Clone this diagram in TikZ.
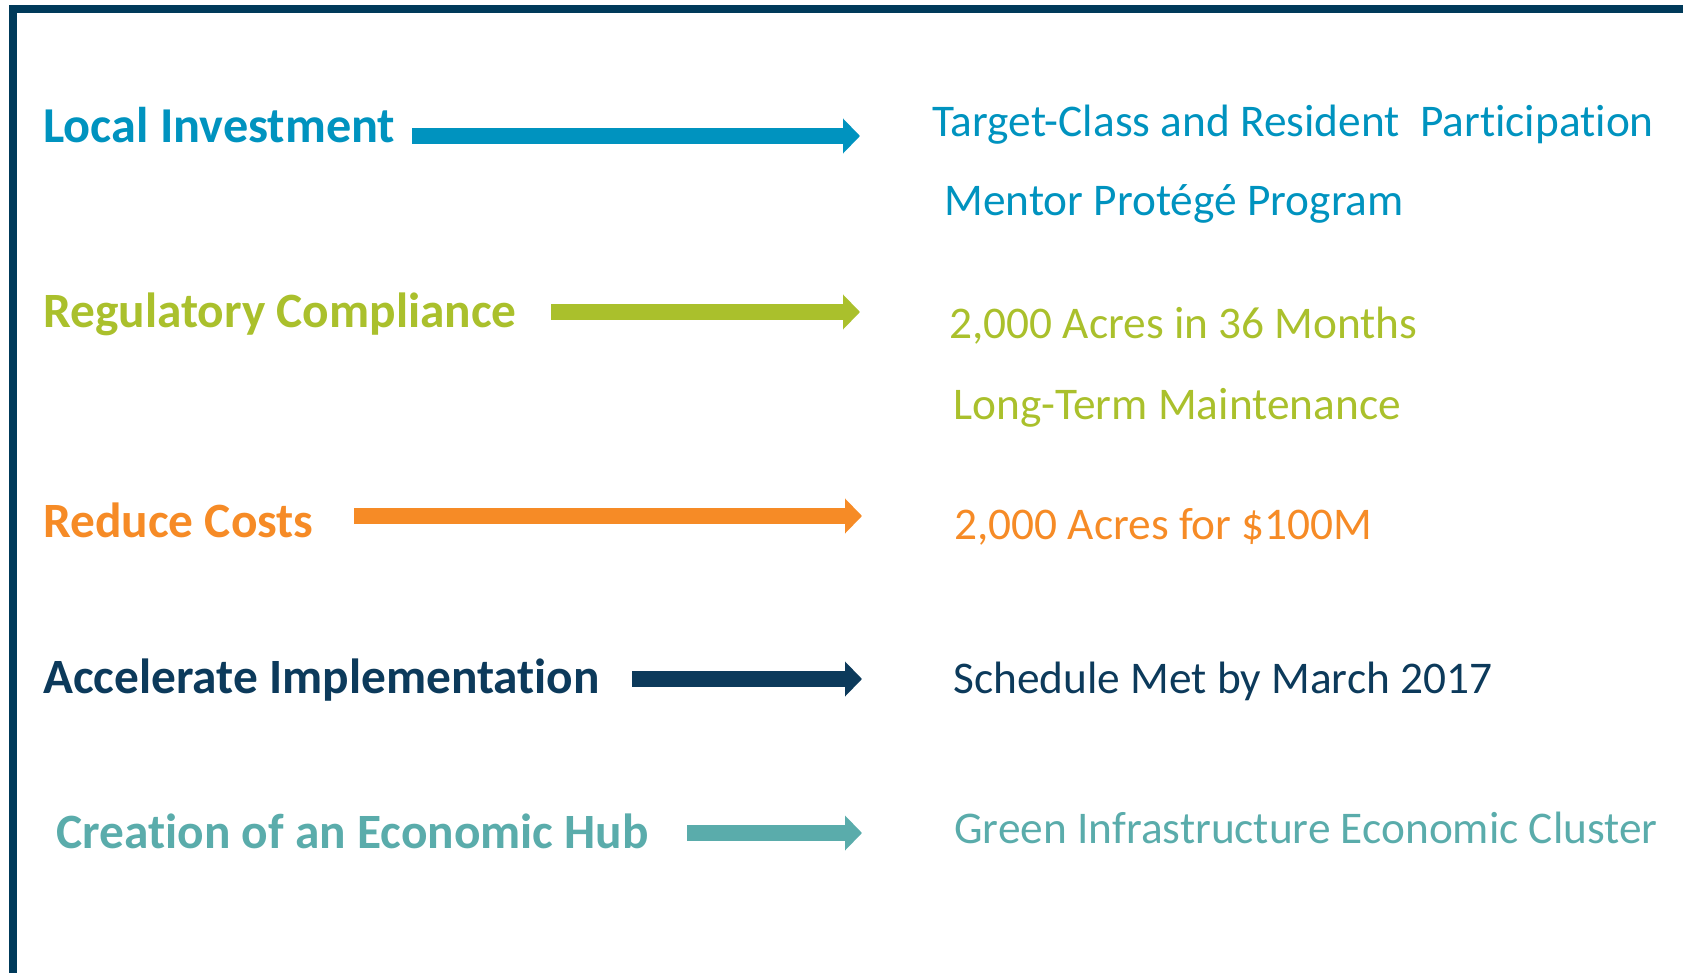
\documentclass[tikz,border=0pt]{standalone}
\usepackage{fontspec}
\setmainfont{Carlito}[Ligatures={NoCommon,NoRequired,NoContextual}]
\usetikzlibrary{arrows.meta}

\definecolor{investblue}{HTML}{0093BF}
\definecolor{complygreen}{HTML}{AAC02C}
\definecolor{costorange}{HTML}{F68B26}
\definecolor{implnavy}{HTML}{0C3A5B}
\definecolor{hubteal}{HTML}{5AACAB}
\definecolor{framenavy}{HTML}{003A5A}

\begin{document}
\begin{tikzpicture}[
  x=0.02cm, y=-0.02cm,
  goal/.style={anchor=base west, inner sep=0pt, font=\fontsize{28.1pt}{30pt}\selectfont\bfseries},
  result/.style={anchor=base west, inner sep=0pt, font=\fontsize{25.8pt}{28pt}\selectfont},
  fatarrow/.style={line width=0.32cm, -{Triangle[length=0.34cm, width=0.68cm]}}
]
\useasboundingbox (0,0) rectangle (1683,973);

% frame
\draw[framenavy, line width=0.16cm, line join=miter] (13,973) -- (13,9) -- (1683,9);

\node[goal, text=investblue, font=\fontsize{28.6pt}{30pt}\selectfont\bfseries] (g1) at (43,143) {Local Investment};
\node[goal, text=complygreen] (g2) at (43,327) {Regulatory Compliance};
\node[goal, text=costorange] (g3) at (43,537) {Reduce Costs};
\node[goal, text=implnavy] (g4) at (43,693) {Accelerate Implementation};
\node[goal, text=hubteal] (g5) at (56,848) {Creation of an Economic Hub};

\node[result, text=investblue] (r1a) at (932,137) {Target-Class and Resident\ \ Participation};
\node[result, text=investblue] (r1b) at (944,215) {Mentor Protégé Program};
\node[result, text=complygreen] (r2a) at (949,338) {2,000 Acres in 36 Months};
\node[result, text=complygreen] (r2b) at (953,419) {Long-Term Maintenance};
\node[result, text=costorange] (r3) at (954,539) {2,000 Acres for \$100M};
\node[result, text=implnavy] (r4) at (953,693) {Schedule Met by March 2017};
\node[result, text=hubteal] (r5) at (954,843) {Green\ Infrastructure Economic Cluster};

\coordinate (s1) at (412,136);
\coordinate (e1) at (860,136);
\coordinate (s2) at (551,312);
\coordinate (e2) at (860,312);
\coordinate (s3) at (354,516);
\coordinate (e3) at (862,516);
\coordinate (s4) at (632,679);
\coordinate (e4) at (862,679);
\coordinate (s5) at (687,833);
\coordinate (e5) at (862,833);

\draw[fatarrow, investblue] (s1) -- (e1);
\draw[fatarrow, complygreen] (s2) -- (e2);
\draw[fatarrow, costorange] (s3) -- (e3);
\draw[fatarrow, implnavy] (s4) -- (e4);
\draw[fatarrow, hubteal] (s5) -- (e5);

\end{tikzpicture}
\end{document}
